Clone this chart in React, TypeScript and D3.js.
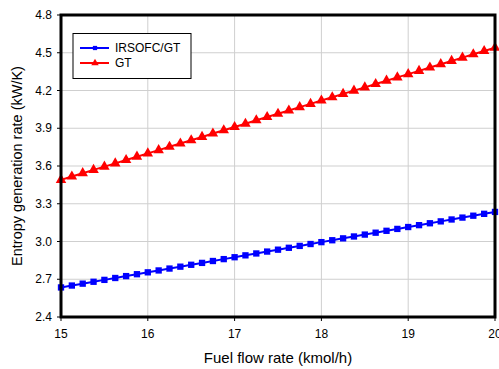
import { useEffect, useRef } from 'react'
import * as d3 from 'd3'

const fuelRate = [
  15, 15.125, 15.25, 15.375, 15.5, 15.625, 15.75, 15.875,
  16, 16.125, 16.25, 16.375, 16.5, 16.625, 16.75, 16.875,
  17, 17.125, 17.25, 17.375, 17.5, 17.625, 17.75, 17.875,
  18, 18.125, 18.25, 18.375, 18.5, 18.625, 18.75, 18.875,
  19, 19.125, 19.25, 19.375, 19.5, 19.625, 19.75, 19.875, 20
]

const irsofcGt = [
  2.635, 2.650, 2.665, 2.680, 2.695, 2.710, 2.725, 2.740,
  2.755, 2.770, 2.785, 2.800, 2.815, 2.830, 2.845, 2.860,
  2.875, 2.890, 2.905, 2.920, 2.935, 2.950, 2.965, 2.980,
  2.995, 3.010, 3.025, 3.040, 3.055, 3.070, 3.085, 3.100,
  3.115, 3.130, 3.145, 3.160, 3.175, 3.190, 3.205, 3.220, 3.235
]

const gt = [
  3.490, 3.516, 3.543, 3.569, 3.595, 3.621, 3.648, 3.674,
  3.700, 3.726, 3.753, 3.779, 3.805, 3.831, 3.858, 3.884,
  3.910, 3.936, 3.963, 3.989, 4.015, 4.041, 4.068, 4.094,
  4.120, 4.146, 4.173, 4.199, 4.225, 4.251, 4.278, 4.304,
  4.330, 4.356, 4.383, 4.409, 4.435, 4.461, 4.488, 4.514, 4.540
]

const xTicks = [15, 16, 17, 18, 19, 20]
const yTicks = [2.4, 2.7, 3.0, 3.3, 3.6, 3.9, 4.2, 4.5, 4.8]
const seriesNames = ['IRSOFC/GT', 'GT']

export default function App() {
  const svgRef = useRef<SVGSVGElement>(null)

  useEffect(() => {
    const W = 499
    const H = 369
    const left = 61, right = 495, top = 15, bottom = 317
    const font = 'Arial, "Liberation Sans", sans-serif'

    const svg = d3.select(svgRef.current)
    svg.selectAll('*').remove()
    svg.attr('width', W).attr('height', H)

    const x = d3.scaleLinear().domain([15, 20]).range([left, right])
    const y = d3.scaleLinear().domain([2.4, 4.8]).range([bottom, top])

    // grid
    svg.append('g').selectAll('line')
      .data(xTicks.slice(1, -1))
      .join('line')
      .attr('x1', d => x(d)).attr('x2', d => x(d))
      .attr('y1', top).attr('y2', bottom)
      .attr('stroke', '#cfcfcf').attr('stroke-width', 1)
    svg.append('g').selectAll('line')
      .data(yTicks.slice(1, -1))
      .join('line')
      .attr('x1', left).attr('x2', right)
      .attr('y1', d => y(d)).attr('y2', d => y(d))
      .attr('stroke', '#cfcfcf').attr('stroke-width', 1)

    // ticks
    svg.append('g').selectAll('line')
      .data(yTicks)
      .join('line')
      .attr('x1', left - 4).attr('x2', left)
      .attr('y1', d => y(d)).attr('y2', d => y(d))
      .attr('stroke', '#000')
    svg.append('g').selectAll('line')
      .data(xTicks)
      .join('line')
      .attr('x1', d => x(d)).attr('x2', d => x(d))
      .attr('y1', bottom).attr('y2', bottom + 4)
      .attr('stroke', '#000')

    // tick labels
    svg.append('g').selectAll('text')
      .data(yTicks)
      .join('text')
      .attr('x', left - 9)
      .attr('y', d => y(d))
      .attr('dominant-baseline', 'central')
      .attr('text-anchor', 'end')
      .attr('font-family', font)
      .attr('font-size', '12px')
      .text(d => d.toFixed(1))
    svg.append('g').selectAll('text')
      .data(xTicks)
      .join('text')
      .attr('x', d => x(d))
      .attr('y', bottom + 17)
      .attr('dominant-baseline', 'central')
      .attr('text-anchor', 'middle')
      .attr('font-family', font)
      .attr('font-size', '12px')
      .text(d => d)

    // axis titles
    svg.append('text')
      .attr('x', (left + right) / 2)
      .attr('y', 357)
      .attr('text-anchor', 'middle')
      .attr('dominant-baseline', 'central')
      .attr('font-family', font)
      .attr('font-size', '15px')
      .text('Fuel flow rate (kmol/h)')
    svg.append('text')
      .attr('transform', `translate(17,${(top + bottom) / 2}) rotate(-90)`)
      .attr('text-anchor', 'middle')
      .attr('dominant-baseline', 'central')
      .attr('font-family', font)
      .attr('font-size', '14.5px')
      .text('Entropy generation rate (kW/K)')

    const line = d3.line<number>()
      .x((_, i) => x(fuelRate[i]))
      .y(d => y(d))

    const drawSeries = (vals: number[], color: string, shape: string) => {
      svg.append('path')
        .datum(vals)
        .attr('d', line)
        .attr('fill', 'none')
        .attr('stroke', color)
        .attr('stroke-width', 2)
      svg.append('g').selectAll('path')
        .data(vals)
        .join('path')
        .attr('transform', (d, i) => `translate(${x(fuelRate[i])},${y(d)})`)
        .attr('d', shape)
        .attr('fill', color)
    }
    drawSeries(irsofcGt, '#0000ff', d3.symbol().type(d3.symbolSquare).size(40)()!)
    drawSeries(gt, '#ff0000', d3.symbol().type(d3.symbolTriangle).size(48)()!)

    // frame
    svg.append('rect')
      .attr('x', left).attr('y', top)
      .attr('width', right - left).attr('height', bottom - top)
      .attr('fill', 'none')
      .attr('stroke', '#000')
      .attr('stroke-width', 3)

    // legend
    const lg = svg.append('g')
    lg.append('rect')
      .attr('x', 73).attr('y', 33.5)
      .attr('width', 118).attr('height', 45)
      .attr('fill', '#fff').attr('stroke', '#000').attr('stroke-width', 1)
    const colors = ['#0000ff', '#ff0000']
    const shapes = [
      d3.symbol().type(d3.symbolSquare).size(18)()!,
      d3.symbol().type(d3.symbolTriangle).size(24)()!
    ]
    seriesNames.forEach((name, i) => {
      const ly = 48 + i * 15
      lg.append('line')
        .attr('x1', 80).attr('x2', 109)
        .attr('y1', ly).attr('y2', ly)
        .attr('stroke', colors[i]).attr('stroke-width', 2)
      lg.append('path')
        .attr('transform', `translate(95,${ly})`)
        .attr('d', shapes[i])
        .attr('fill', colors[i])
      lg.append('text')
        .attr('x', 115).attr('y', ly)
        .attr('dominant-baseline', 'central')
        .attr('font-family', font)
        .attr('font-size', '12px')
        .text(name)
    })
  }, [])

  return (
    <div style={{ position: 'fixed', left: 0, top: 0, background: '#fff' }}>
      <svg ref={svgRef} style={{ display: 'block' }} />
    </div>
  )
}
